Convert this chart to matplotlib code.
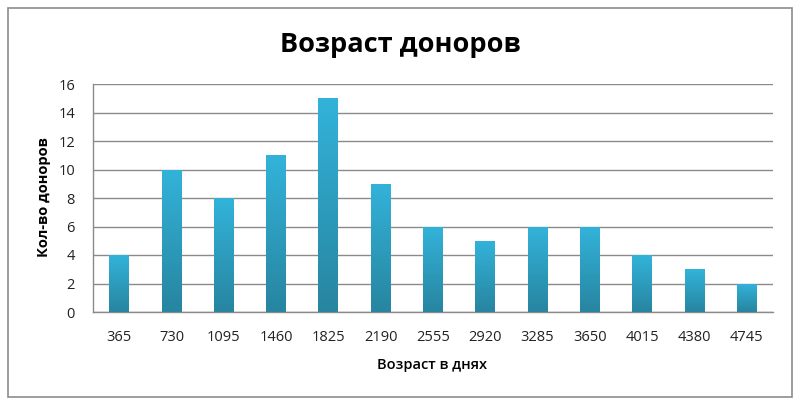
import matplotlib
matplotlib.use("Agg")
import matplotlib.pyplot as plt
import numpy as np
from matplotlib.patches import Rectangle
from matplotlib.colors import LinearSegmentedColormap

categories = ["365", "730", "1095", "1460", "1825", "2190", "2555", "2920",
              "3285", "3650", "4015", "4380", "4745"]
values = [4, 10, 8, 11, 15, 9, 6, 5, 6, 6, 4, 3, 2]
yticks = [0, 2, 4, 6, 8, 10, 12, 14, 16]

title = "Возраст доноров"
xlabel = "Возраст в днях"
ylabel = "Кол-во доноров"

plt.rcParams['font.family'] = ['Open Sans', 'DejaVu Sans']

fig = plt.figure(figsize=(8, 4.04), dpi=100)
fig.patch.set_facecolor('white')
# outer frame
fig.add_artist(Rectangle((8/800, 1 - 397/404), 784/800, 389/404,
                         transform=fig.transFigure, fill=False,
                         edgecolor='#8c8c8c', linewidth=1.2))

ax = fig.add_axes([93/800, 1 - 312/404, (773 - 93)/800, (312 - 84)/404])
x = np.arange(len(categories))
width = 0.38
bars = ax.bar(x, values, width=width, color='none', edgecolor='none', zorder=3)

cmap = LinearSegmentedColormap.from_list('g', ['#2785a0', '#33b3da'])
grad = np.linspace(0, 1, 256).reshape(-1, 1)
for b, v in zip(bars, values):
    x0 = b.get_x()
    im = ax.imshow(grad, cmap=cmap, aspect='auto', origin='lower',
                   extent=(x0, x0 + width, 0, v), zorder=3, interpolation='bilinear')
    im.set_clip_path(b)

ax.set_xlim(-0.5, len(categories) - 0.5)
ax.set_ylim(0, 16)
ax.set_yticks(yticks)
ax.set_xticks(x)
ax.set_xticklabels(categories)
ax.yaxis.grid(True, color='#8a8a8a', linewidth=1.0, zorder=0)
ax.set_axisbelow(True)
for s in ['top', 'right']:
    ax.spines[s].set_visible(False)
for s in ['left', 'bottom']:
    ax.spines[s].set_color('#8a8a8a')
    ax.spines[s].set_linewidth(1.0)
ax.tick_params(axis='both', length=0, labelsize=10.5, colors='#222222')
ax.tick_params(axis='x', pad=13)
ax.tick_params(axis='y', pad=13)

fig.text(400/800, 1 - 45/404, title, ha='center', va='center',
         fontsize=19.5, fontweight='bold', color='black')
fig.text(432/800, 1 - 365/404, xlabel, ha='center', va='center',
         fontsize=10.5, fontweight='semibold', color='black')
fig.text(44/800, 1 - 197/404, ylabel, ha='center', va='center',
         fontsize=10.5, fontweight='bold', rotation=90, color='black')

fig.savefig('out.png', dpi=100)
